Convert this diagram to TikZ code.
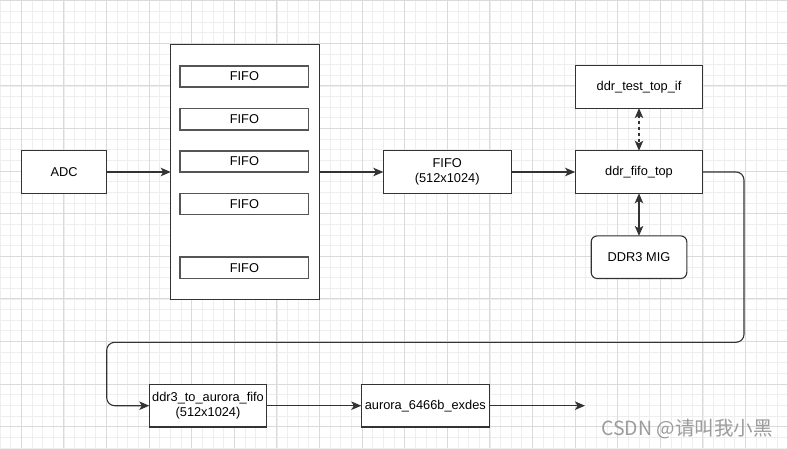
\documentclass[tikz,border=0pt]{standalone}
\usepackage{fontspec}
\setmainfont{Liberation Sans}
\newfontfamily\cjkfont{Noto Sans CJK SC}
\usepackage{tikz}
\usetikzlibrary{positioning, arrows.meta}
\definecolor{boxline}{HTML}{333333}
\definecolor{fifoline}{HTML}{555555}
\definecolor{gridminor}{HTML}{EEEEEE}
\definecolor{gridmajor}{HTML}{DADADA}
\definecolor{markgray}{HTML}{9C9C9C}
\tikzset{
  block/.style={rectangle, draw=boxline, line width=1.1pt, outer sep=0pt, fill=white, minimum width=127.8pt, minimum height=42.6pt, inner sep=2pt, align=center, font=\fontsize{12.8}{15.3}\selectfont},
  roundblock/.style={block, rounded corners=6pt, minimum width=95.6pt},
  container/.style={rectangle, draw=boxline, line width=1.1pt, outer sep=0pt, fill=white, minimum width=148.6pt, minimum height=255pt},
  fifobox/.style={rectangle, draw=fifoline, line width=1.4pt, outer sep=0pt, fill=white, minimum width=128.7pt, minimum height=21.3pt, inner sep=1pt, font=\fontsize{12.8}{15.3}\selectfont},
  arrow/.style={-{Stealth[length=10pt, width=8.5pt, inset=2.5pt]}, line width=1.1pt, draw=boxline},
  dasharrow/.style={{Stealth[length=10pt, width=8.5pt, inset=2.5pt]}-{Stealth[length=10pt, width=8.5pt, inset=2.5pt]}, line width=1.1pt, draw=boxline, dash pattern=on 3pt off 3pt},
  biarrow/.style={{Stealth[length=10pt, width=8.5pt, inset=2.5pt]}-{Stealth[length=10pt, width=8.5pt, inset=2.5pt]}, line width=1.1pt, draw=boxline},
  gridline/.style={draw=gridminor, line width=0.8pt},
  gridbold/.style={draw=gridmajor, line width=0.9pt},
  watermark/.style={text=markgray, font=\cjkfont\fontsize{19.5}{22}\selectfont, inner sep=0pt},
}

\begin{document}
\begin{tikzpicture}[x=1pt, y=-1pt, node distance=42.6pt and 64pt]

  \useasboundingbox (0,0) rectangle (787,448);
  \fill[white] (0,0) rectangle (787,448);

  % Grid
  \foreach \k in {0,...,73} \draw[gridline] ({\k*10.65},0) -- ({\k*10.65},448);
  \foreach \k in {0,...,42} \draw[gridline] (0,{0.7+\k*10.65}) -- (787,{0.7+\k*10.65});
  \foreach \k in {0,...,17} \draw[gridbold] ({21.3+\k*42.6},0) -- ({21.3+\k*42.6},448);
  \foreach \k in {0,...,10} \draw[gridbold] (0,{0.7+\k*42.6}) -- (787,{0.7+\k*42.6});

  % Nodes
  \node[block, minimum width=85.2pt] (adc) at (64.1,172) {ADC};
  \node[container, right=of adc] (bank) {};
  \foreach \y/\n in {76.5/1, 119.2/2, 161.5/3, 204/4, 267.7/5}
    \node[fifobox] (fifo\n) at (244.4,\y) {FIFO};
  \node[block, right=of bank] (fifo512) {FIFO\\(512x1024)};
  \node[block, right=of fifo512] (ddrtop) {ddr\_fifo\_top};
  \node[block, above=of ddrtop] (ddrtest) {ddr\_test\_top\_if};
  \node[roundblock, below=of ddrtop] (mig) {DDR3 MIG};

  \node[block, minimum width=117.4pt] (ddr3aur) at (208,405.7) {ddr3\_to\_aurora\_fifo\\(512x1024)};
  \node[block, minimum width=128pt, right=94.6pt of ddr3aur] (aurora) {aurora\_6466b\_exdes};
  \coordinate[right=95.7pt of aurora] (out);

  \coordinate (turnR) at (744,342.3);
  \coordinate (turnL) at (106.7,342.3);

  % Arrows
  \draw[arrow] (adc) -- (bank);
  \draw[arrow] (bank) -- (fifo512);
  \draw[arrow] (fifo512) -- (ddrtop);
  \draw[dasharrow] (ddrtest) -- (ddrtop);
  \draw[biarrow] (ddrtop) -- (mig);
  \draw[arrow, rounded corners=8pt] (ddrtop.east) -| (turnR) -- (turnL) |- (ddr3aur.west);
  \draw[arrow] (ddr3aur) -- (aurora);
  \draw[arrow] (aurora) -- (out);

  % Watermark
  \node[watermark, anchor=west] (csdn) at (601,429) {CSDN @请叫我小黑};

\end{tikzpicture}
\end{document}
